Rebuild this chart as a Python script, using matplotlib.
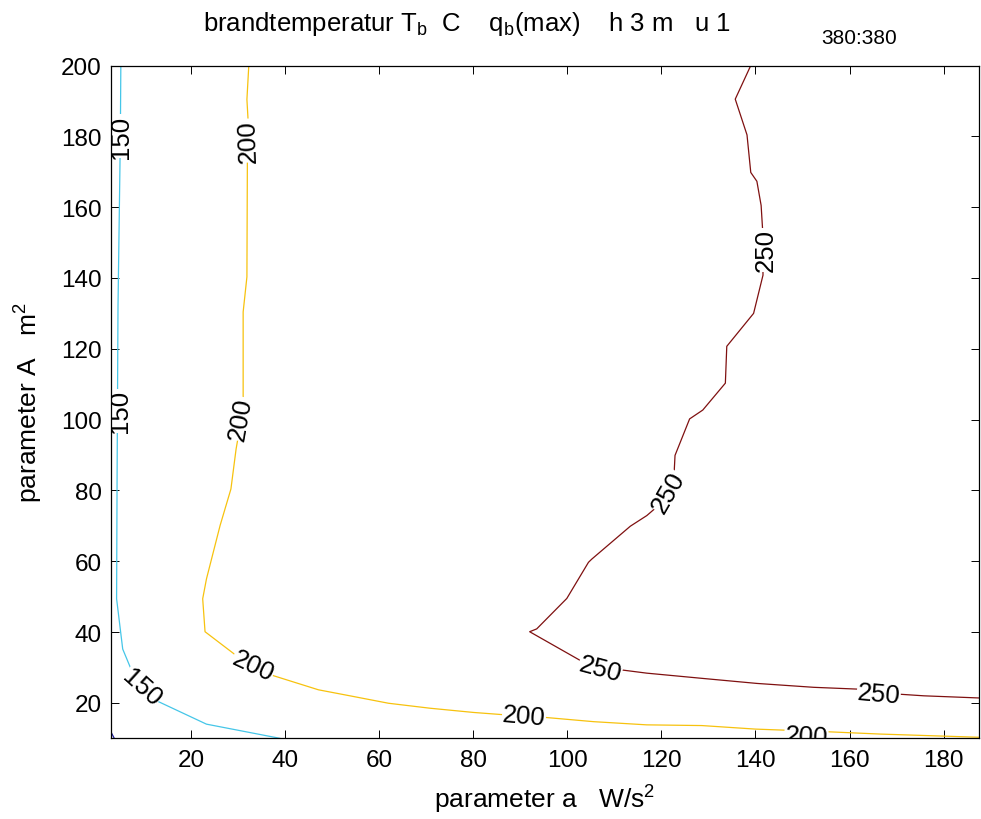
import numpy as np
import matplotlib
matplotlib.use('Agg')
from matplotlib import pyplot as plt

plt.rcParams['font.family'] = ['Liberation Sans', 'DejaVu Sans']
plt.rcParams['mathtext.fontset'] = 'custom'
plt.rcParams['mathtext.rm'] = 'Liberation Sans'
plt.rcParams['mathtext.it'] = 'Liberation Sans'
plt.rcParams['mathtext.default'] = 'regular'

# 等值线 (参数 a, 参数 A)
levels = [100, 150, 200, 250]

a_100 = [3.0, 3.7]
A_100 = [11.8, 10.0]

a_150 = [5.1, 5.0, 4.5, 4.3, 4.2, 5.5, 7.25, 11.9, 23.3, 38.9]
A_150 = [200, 180, 132.1, 82.4, 49.4, 35.2, 29.6, 21.1, 14.0, 10.0]

a_200 = [32.3, 31.9, 32.2, 32.0, 31.9, 31.1, 31.1, 30.1, 29.6, 28.5, 26.2, 23.3,
         22.5, 23.0, 30.1, 36.3, 47.1, 53.8, 62.0, 70.8, 80.1, 86.1, 95.3, 105.6,
         116.9, 128.6, 140.0, 154.5, 166.5, 187.4]
A_200 = [200, 190.4, 183.4, 173.4, 140.3, 130.4, 105.4, 95.5, 91.7, 80.4, 70.1, 55.0,
         49.4, 40.1, 32.9, 28.2, 23.7, 22.0, 19.9, 18.5, 17.3, 16.7, 15.9, 14.7,
         13.8, 13.6, 12.6, 11.9, 11.2, 10.3]

a_250 = [139.0, 135.7, 138.2, 139.0, 140.3, 141.2, 141.5, 141.6, 139.6, 133.9, 133.6,
         128.8, 126.0, 122.9, 122.7, 119.0, 116.9, 113.4, 105.2, 104.5, 99.9, 93.5,
         92.0, 103.4, 111.6, 116.9, 128.9, 140.3, 152.4, 161.6, 170.1, 175.8, 187.4]
A_250 = [200, 190.5, 180.4, 169.8, 167.3, 160.5, 154.0, 140.8, 130.0, 120.7, 110.3,
         102.7, 100.2, 89.9, 84.7, 75.3, 72.9, 69.9, 60.6, 59.7, 49.5, 40.9,
         40.1, 31.5, 29.3, 28.4, 26.9, 25.5, 24.4, 23.9, 22.5, 22.0, 21.4]

# clabel 位置: (a, A, 角度)
labels_150 = [(5.1, 180.1, 90), (5.0, 102.5, 90), (9.5, 24.4, -42)]
labels_200 = [(32.1, 178.8, 92), (30.6, 100.2, 80), (33.2, 30.4, -25),
              (90.8, 16.3, -5), (150.8, 10.7, -3)]
labels_250 = [(142.1, 147.9, 90), (121.5, 79.5, 60), (107.0, 29.6, -15),
              (166.2, 22.5, -5)]

xticks = np.arange(20, 181, 20)
yticks = np.arange(20, 201, 20)

fig = plt.figure(figsize=(9.81, 8.2), dpi=100)
ax = fig.add_axes([0.1131, 0.0984, 0.8848, 0.8205])

lines = [(a_100, A_100, '#1c1c9c', []),
         (a_150, A_150, '#45c6e8', labels_150),
         (a_200, A_200, '#f7c20e', labels_200),
         (a_250, A_250, '#7f1010', labels_250)]
for (xs, ys, col, labs), lev in zip(lines, levels):
    ax.plot(xs, ys, color=col, linewidth=0.9, zorder=2)
    for lx, ly, rot in labs:
        ax.text(lx, ly, str(lev), fontsize=18.5, rotation=rot, rotation_mode='anchor',
                ha='center', va='center', clip_on=True, zorder=2.2,
                bbox=dict(fc='white', ec='none', pad=0.3))

ax.set_xlim(3, 187.5)
ax.set_ylim(10, 200)
ax.set_xticks(xticks)
ax.set_yticks(yticks)
ax.tick_params(direction='in', length=6, width=0.7, labelsize=17.5,
               top=True, right=True)
ax.tick_params(axis='x', pad=8)
ax.tick_params(axis='y', pad=6.5)
for s in ax.spines.values():
    s.set_linewidth(0.9)

ax.set_xlabel('parameter a   W/s$^2$', fontsize=19, labelpad=8)
ax.set_ylabel('parameter A   m$^2$', fontsize=19, labelpad=12)

fig.text(467 / 981, 1 - 24 / 820, 'brandtemperatur T$_b$  C    q$_b$(max)    h 3 m   u 1',
         fontsize=18.5, ha='center', va='center')
fig.text(859 / 981, 1 - 38 / 820, '380:380', fontsize=15, ha='center', va='center')

fig.savefig('out.png', dpi=100)
